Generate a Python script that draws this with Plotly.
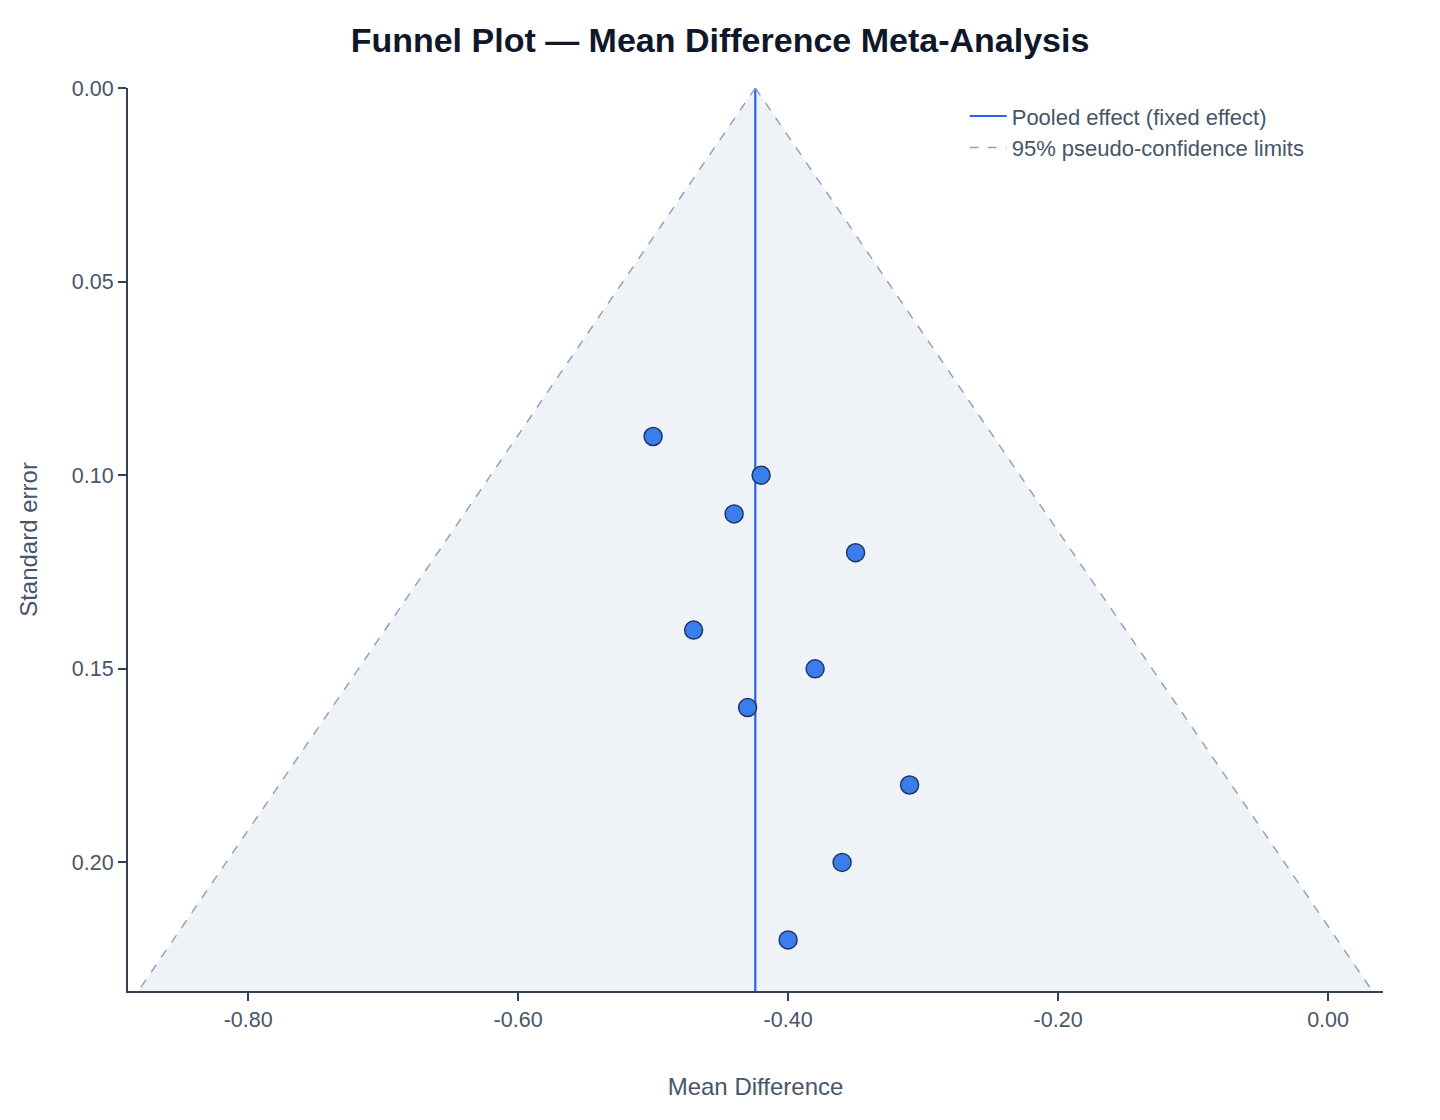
import numpy as np
import plotly.graph_objects as go

# Study data
mean_diff = [-0.50, -0.42, -0.44, -0.35, -0.47, -0.38, -0.43, -0.31, -0.36, -0.40]
std_err = [0.09, 0.10, 0.11, 0.12, 0.14, 0.15, 0.16, 0.18, 0.20, 0.22]

x_tick_vals = [-0.8, -0.6, -0.4, -0.2, 0.0]
x_tick_text = ["-0.80", "-0.60", "-0.40", "-0.20", "0.00"]
y_tick_vals = [0.0, 0.05, 0.10, 0.15, 0.20]
y_tick_text = ["0.00", "0.05", "0.10", "0.15", "0.20"]

md = np.array(mean_diff)
se = np.array(std_err)
w = 1.0 / se**2
pooled = float(np.sum(w * md) / np.sum(w))
se_max = float(se.max()) * 1.06
z = 1.96

left_b = pooled - z * se_max
right_b = pooled + z * se_max

fig = go.Figure()

# shaded funnel region
fig.add_trace(go.Scatter(
    x=[pooled, left_b, right_b, pooled],
    y=[0, se_max, se_max, 0],
    fill="toself", fillcolor="#eff3f8", mode="lines",
    line=dict(width=0), hoverinfo="skip", showlegend=False))

# pooled effect line
fig.add_trace(go.Scatter(
    x=[pooled, pooled], y=[0, se_max], mode="lines",
    line=dict(color="#2563eb", width=2.2),
    name="Pooled effect (fixed effect)"))

# pseudo-confidence limits
fig.add_trace(go.Scatter(
    x=[pooled, left_b, None, pooled, right_b],
    y=[0, se_max, None, 0, se_max], mode="lines",
    line=dict(color="#94a3b8", width=1.5, dash="dash"),
    name="95% pseudo-confidence limits"))

# studies
fig.add_trace(go.Scatter(
    x=mean_diff, y=std_err, mode="markers",
    marker=dict(size=18, color="#3b7ded", line=dict(color="#1e3a5f", width=1.5)),
    showlegend=False, name="Studies"))

font_family = "Liberation Sans, Arial, Helvetica, sans-serif"

fig.update_layout(
    width=1440, height=1120,
    margin=dict(l=128, r=57, t=88, b=129),
    paper_bgcolor="white", plot_bgcolor="white",
    font=dict(family=font_family, color="#475569", size=22),
    title=dict(text="<b>Funnel Plot — Mean Difference Meta-Analysis</b>",
               x=0.5, xanchor="center", y=1 - 40 / 1120, yanchor="middle",
               font=dict(size=34, color="#0f172a", family=font_family)),
    legend=dict(x=0.6667, y=0.992, xanchor="left", yanchor="top", itemwidth=37,
                bgcolor="rgba(255,255,255,0)", font=dict(size=22, color="#475569")),
    xaxis=dict(range=[-0.889, 0.0407], tickvals=x_tick_vals, ticktext=x_tick_text,
               showgrid=False, zeroline=False, showline=True, linecolor="#334155",
               linewidth=2, ticks="outside", ticklen=8, tickwidth=1.5, tickcolor="#334155",
               tickfont=dict(size=21.5, color="#475569"),
               title=dict(text="Mean Difference", standoff=47, font=dict(size=24, color="#475569"))),
    yaxis=dict(range=[se_max, 0], tickvals=y_tick_vals, ticktext=y_tick_text,
               showgrid=False, zeroline=False, showline=True, linecolor="#334155",
               linewidth=2, ticks="outside", ticklen=8, tickwidth=1.5, tickcolor="#334155",
               tickfont=dict(size=21.5, color="#475569"),
               title=dict(text="Standard error", standoff=27, font=dict(size=24, color="#475569"))),
)

fig.write_html("out.html")
